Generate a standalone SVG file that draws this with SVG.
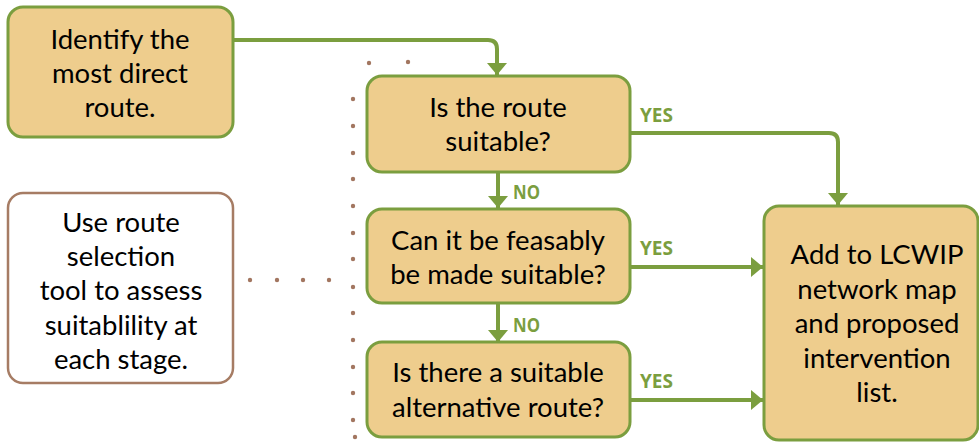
<svg xmlns="http://www.w3.org/2000/svg" width="979" height="444" viewBox="0 0 979 444">
<style>
.n{fill:#eecd8d;stroke:#7b9e3f;stroke-width:3}
.w{fill:#ffffff;stroke:#a67c64;stroke-width:2.5}
.t{font-family:Lato,"Open Sans","Noto Sans",sans-serif;font-size:27.5px;fill:#000;text-anchor:middle}
.l{font-family:"Open Sans","Noto Sans",sans-serif;font-weight:bold;font-size:20px;fill:#7b9e3f}
.c{fill:none;stroke:#7b9e3f;stroke-width:4}
.d{fill:#a27660}
</style>
<defs>
<marker id="ah" markerUnits="userSpaceOnUse" markerWidth="12" markerHeight="20" refX="12" refY="10" orient="auto">
<path d="M0,0 L12,10 L0,20 z" fill="#7b9e3f"/>
</marker>
</defs>
<g id="dots">
<circle class="d" cx="369" cy="63" r="2.2"/>
<circle class="d" cx="408" cy="62" r="2.2"/>
<circle class="d" cx="353" cy="99" r="2.2"/>
<circle class="d" cx="353" cy="126" r="2.2"/>
<circle class="d" cx="353" cy="153" r="2.2"/>
<circle class="d" cx="353" cy="179" r="2.2"/>
<circle class="d" cx="353" cy="206" r="2.2"/>
<circle class="d" cx="353" cy="233" r="2.2"/>
<circle class="d" cx="353" cy="259" r="2.2"/>
<circle class="d" cx="353" cy="287" r="2.2"/>
<circle class="d" cx="353" cy="313" r="2.2"/>
<circle class="d" cx="353" cy="340" r="2.2"/>
<circle class="d" cx="353" cy="367" r="2.2"/>
<circle class="d" cx="353" cy="393" r="2.2"/>
<circle class="d" cx="353" cy="420" r="2.2"/>
<circle class="d" cx="355" cy="437" r="2.2"/>
<circle class="d" cx="250" cy="280" r="2.2"/>
<circle class="d" cx="277" cy="280" r="2.2"/>
<circle class="d" cx="303" cy="280" r="2.2"/>
<circle class="d" cx="329" cy="280" r="2.2"/>
</g>
<g id="connectors">
<path class="c" d="M233,40 H488 Q497,40 497,49 V75" marker-end="url(#ah)"/>
<path class="c" d="M630,133 H829 Q838,133 838,142 V205" marker-end="url(#ah)"/>
<path class="c" d="M498,172 V208" marker-end="url(#ah)"/>
<path class="c" d="M630,267 H763" marker-end="url(#ah)"/>
<path class="c" d="M498,303 V342" marker-end="url(#ah)"/>
<path class="c" d="M630,400 H763" marker-end="url(#ah)"/>
<text class="l" x="640" y="122" textLength="33" lengthAdjust="spacingAndGlyphs">YES</text>
<text class="l" x="513" y="199" textLength="27" lengthAdjust="spacingAndGlyphs">NO</text>
<text class="l" x="640" y="255" textLength="33" lengthAdjust="spacingAndGlyphs">YES</text>
<text class="l" x="513" y="332" textLength="27" lengthAdjust="spacingAndGlyphs">NO</text>
<text class="l" x="640" y="388" textLength="33" lengthAdjust="spacingAndGlyphs">YES</text>
</g>
<g id="identify">
<rect class="n" x="8" y="7" width="225" height="130" rx="15"/>
<text class="t" x="120" y="49">Identify the</text>
<text class="t" x="120" y="83">most direct</text>
<text class="t" x="120" y="117">route.</text>
</g>
<g id="tool">
<rect class="w" x="8" y="193" width="225" height="190" rx="15"/>
<text class="t" x="121" y="232">Use route</text>
<text class="t" x="121" y="266">selection</text>
<text class="t" x="121" y="300">tool to assess</text>
<text class="t" x="121" y="335">suitablility at</text>
<text class="t" x="121" y="369">each stage.</text>
</g>
<g id="suitable">
<rect class="n" x="367" y="76" width="263" height="96" rx="15"/>
<text class="t" x="498" y="117">Is the route</text>
<text class="t" x="498" y="151">suitable?</text>
</g>
<g id="feasible">
<rect class="n" x="367" y="209" width="263" height="94" rx="15"/>
<text class="t" x="498" y="250">Can it be feasably</text>
<text class="t" x="498" y="284">be made suitable?</text>
</g>
<g id="alternative">
<rect class="n" x="367" y="342" width="263" height="95" rx="15"/>
<text class="t" x="498" y="382">Is there a suitable</text>
<text class="t" x="498" y="417">alternative route?</text>
</g>
<g id="add">
<rect class="n" x="764" y="206" width="214" height="234" rx="15"/>
<text class="t" x="877" y="264">Add to LCWIP</text>
<text class="t" x="877" y="299">network map</text>
<text class="t" x="877" y="333">and proposed</text>
<text class="t" x="877" y="368">intervention</text>
<text class="t" x="877" y="402">list.</text>
</g>
</svg>
